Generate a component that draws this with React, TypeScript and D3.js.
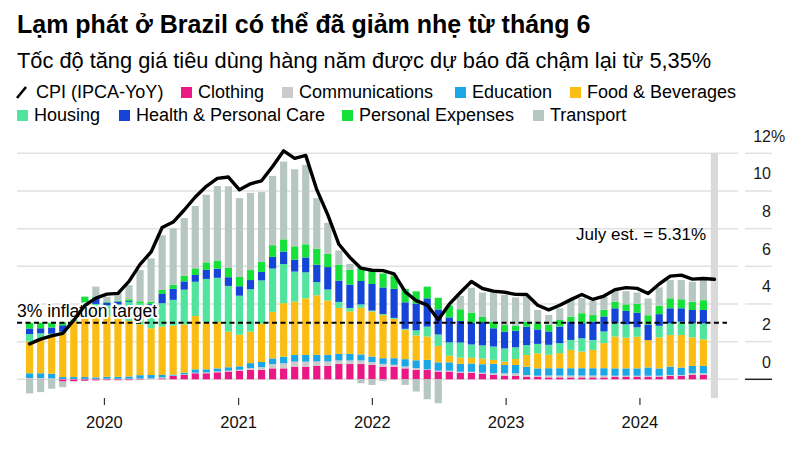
import React, { useEffect, useRef } from "react";
import * as d3 from "d3";

// IPCA 12-month rate, one point per month (last one is the estimate)
const cpi = [
  1.88, 2.13, 2.31, 2.44, 3.14, 3.92, 4.31, 4.52,
  4.56, 5.2, 6.1, 6.76, 8.06, 8.35, 8.99, 9.68, 10.25, 10.67, 10.74, 10.06,
  10.38, 10.54, 11.3, 12.13, 11.73, 11.89, 10.07, 8.73, 7.17, 6.47, 5.9, 5.79,
  5.77, 5.6, 4.65, 4.18, 3.94, 3.16, 3.99, 4.61, 5.19, 4.82, 4.68, 4.62,
  4.51, 4.5, 3.93, 3.69, 3.93, 4.23, 4.5, 4.24, 4.42, 4.76, 4.87, 4.83,
  4.56, 5.06, 5.48, 5.53, 5.32, 5.35, 5.31,
];

// contributions by group, percentage points
const clothing = [
  0.02, 0.02, 0.0, -0.12, -0.1, -0.08, -0.06, -0.05, -0.05, -0.05, -0.03, 0.0,
  0.05, 0.18, 0.23, 0.32, 0.32, 0.37, 0.41, 0.46, 0.5, 0.5, 0.58, 0.58,
  0.67, 0.67, 0.71, 0.71, 0.81, 0.81, 0.81, 0.76, 0.67, 0.67, 0.58, 0.5,
  0.5, 0.41, 0.41, 0.35, 0.35, 0.3, 0.23, 0.18, 0.18, 0.14, 0.14, 0.1,
  0.1, 0.1, 0.1, 0.1, 0.1, 0.14, 0.14, 0.14, 0.14, 0.14, 0.18, 0.18, 0.23, 0.23,
];
const communications = [
  0.05, 0.05, 0.05, 0.02, 0.02, 0.02, 0.02, 0.03, 0.03, 0.03, 0.04, 0.05,
  0.05, 0.02, 0.03, 0.03, 0.05, 0.05, 0.05, 0.05, 0.1, 0.15, 0.23, 0.27,
  0.27, 0.27, 0.24, 0.24, 0.19, 0.19, 0.19, 0.15, 0.15, 0.1, 0.1, 0.1,
  0.03, 0.05, 0.05, 0.05, 0.05, 0.05, 0.09, 0.14, 0.14, 0.09, 0.05, 0.1,
  0.1, 0.1, 0.1, 0.1, 0.1, 0.05, 0.05, 0.05, 0.05, 0.05, 0.05, 0.05, 0.09, 0.09,
];
const education = [
  0.25, 0.25, 0.25, 0.1, 0.1, 0.1, 0.08, 0.1, 0.1, 0.12, 0.18, 0.18,
  0.13, 0.05, 0.09, 0.18, 0.16, 0.16, 0.18, 0.18, 0.26, 0.27, 0.3, 0.35,
  0.35, 0.35, 0.35, 0.35, 0.35, 0.35, 0.32, 0.3, 0.3, 0.35, 0.39, 0.41,
  0.5, 0.44, 0.44, 0.42, 0.44, 0.45, 0.5, 0.44, 0.44, 0.44, 0.39, 0.39,
  0.39, 0.39, 0.39, 0.39, 0.39, 0.39, 0.39, 0.39, 0.44, 0.39, 0.44, 0.39, 0.39, 0.39,
];
const food = [
  1.68, 1.8, 1.97, 2.35, 2.95, 3.92, 3.55, 3.2, 3.1, 2.95, 2.7, 2.48,
  2.57, 2.6, 2.56, 2.83, 2.51, 2.47, 1.89, 1.68, 1.67, 2.03, 2.47, 2.84,
  2.83, 3.01, 3.16, 2.88, 2.44, 2.26, 2.48, 2.39, 2.3, 2.09, 1.56, 1.32,
  1.24, 0.87, 0.35, 0.33, 0.3, 0.3, 0.21, 0.18, 0.32, 0.62, 0.8, 0.71,
  0.8, 0.97, 0.88, 0.97, 1.33, 1.69, 1.63, 1.68, 1.45, 1.65, 1.68, 1.73, 1.52, 1.41,
];
const housing = [
  0.4, 0.32, 0.15, 0.05, 0.05, 0.05, 0.35, 0.6, 0.75, 1.0, 1.1, 1.23,
  1.24, 1.37, 1.85, 1.82, 2.29, 2.34, 2.43, 2.07, 2.25, 2.3, 2.3, 2.08,
  1.6, 1.38, 0.7, 0.59, 0.32, 0.18, 0.18, 0.05, 0.05, 0.05, 0.05, 0.27,
  0.53, 0.61, 0.71, 0.8, 0.71, 0.7, 0.71, 0.7, 0.62, 0.53, 0.5, 0.53,
  0.53, 0.53, 0.71, 0.53, 0.62, 0.7, 0.71, 0.5, 0.0, 0.61, 0.62, 0.71, 0.74, 0.85,
];
const health = [
  0.3, 0.27, 0.33, 0.35, 0.0, 0.0, 0.35, 0.15, 0.15, 0.05, 0.0, 0.05,
  0.49, 0.58, 0.44, 0.36, 0.48, 0.48, 0.46, 0.5, 0.49, 0.45, 0.62, 0.66,
  0.63, 0.79, 0.92, 1.19, 1.13, 1.24, 1.24, 1.41, 1.41, 1.54, 1.41, 1.42,
  1.5, 1.33, 1.33, 1.15, 1.15, 1.24, 0.97, 0.89, 0.88, 0.97, 0.77, 0.71,
  0.88, 0.97, 0.8, 0.97, 0.8, 0.8, 0.71, 0.78, 0.83, 0.62, 0.8, 0.71, 0.71, 0.71,
];
const personalExpenses = [
  0.3, 0.3, 0.25, 0.15, 0.05, 0.3, 0.05, 0.05, 0.05, 0.1, 0.12, 0.13,
  0.21, 0.22, 0.3, 0.35, 0.4, 0.44, 0.49, 0.5, 0.53, 0.53, 0.62, 0.65,
  0.71, 0.7, 0.85, 0.7, 0.85, 0.79, 0.7, 0.72, 0.74, 0.71, 0.71, 0.65,
  0.62, 0.62, 0.62, 0.62, 0.54, 0.27, 0.35, 0.35, 0.27, 0.27, 0.32, 0.35,
  0.35, 0.27, 0.53, 0.35, 0.35, 0.35, 0.35, 0.46, 0.49, 0.45, 0.53, 0.48, 0.44, 0.52,
];
const transport = [
  -0.75, -0.68, -0.5, -0.3, -0.02, 0.0, 0.52, 0.25, 0.45, 0.75, 1.66, 2.3,
  2.91, 3.0, 3.06, 3.31, 3.59, 3.95, 4.34, 4.18, 4.1, 3.71, 3.68, 4.13,
  4.09, 4.21, 2.69, 1.65, 0.75, 0.31, -0.21, -0.3, -0.1, 0.0, -0.3, -0.65,
  -1.06, -1.27, 0.05, 0.71, 1.32, 1.3, 1.59, 1.6, 1.5, 1.33, 0.71, 0.53,
  0.62, 0.88, 0.8, 0.75, 0.7, 0.61, 0.7, 0.61, 0.89, 0.97, 0.97, 1.02, 1.06, 1.07,
];

const groups = [
  "Clothing", "Communications", "Education", "Food & Beverages",
  "Housing", "Health & Personal Care", "Personal Expenses", "Transport",
];
const groupValues = [clothing, communications, education, food, housing, health, personalExpenses, transport];
const groupColors = ["#ea1784", "#cbcbcb", "#1ba6e6", "#fbbd14", "#50e49e", "#1444d8", "#16e03a", "#b6c7c1"];

const yTicks = [0, 2, 4, 6, 8, 10, 12];
const targetRate = 3;
const estimateLabel = "July est. = 5.31%";

const months = d3.timeMonth.range(new Date(2019, 5, 1), new Date(2024, 8, 1));

const FONT = "'Liberation Sans', Arial, Helvetica, sans-serif";

const App = () => {
  const svgRef = useRef<SVGSVGElement>(null);

  useEffect(() => {
    const w = 803;
    const h = 456;
    const svg = d3.select(svgRef.current).attr("width", w).attr("height", h);
    svg.selectAll("*").remove();
    svg.append("rect").attr("width", w).attr("height", h).attr("fill", "#fff");

    const x = d3.scaleBand<Date>().domain(months).range([26, 718]).paddingInner(0.35).paddingOuter(0);
    const y = d3.scaleLinear().domain([0, 12]).range([379.3, 153.3]);
    const xt = d3.scaleTime()
      .domain([months[0], months[months.length - 1]])
      .range([x(months[0])!, x(months[months.length - 1])! + x.bandwidth()]);

    // headline and subtitle
    svg.append("text").attr("x", 17).attr("y", 33)
      .style("font", `bold 25px ${FONT}`).attr("fill", "#000")
      .text("Lạm phát ở Brazil có thể đã giảm nhẹ từ tháng 6");
    svg.append("text").attr("x", 17).attr("y", 68)
      .style("font", `21.8px ${FONT}`).attr("fill", "#000")
      .text("Tốc độ tăng giá tiêu dùng hàng năm được dự báo đã chậm lại từ 5,35%");

    // legend
    const legend = svg.append("g").style("font", `18px ${FONT}`);
    legend.append("line").attr("x1", 17).attr("y1", 98).attr("x2", 26).attr("y2", 87)
      .attr("stroke", "#000").attr("stroke-width", 2.6);
    legend.append("text").attr("x", 36).attr("y", 98).text("CPI (IPCA-YoY)");
    const legendPos = [
      [181, 92], [282, 92], [455, 92], [570, 92],
      [17, 115], [119, 115], [342, 115], [533, 115],
    ];
    groups.forEach((g, i) => {
      const [lx, ly] = legendPos[i];
      legend.append("rect").attr("x", lx).attr("y", ly - 5).attr("width", 11).attr("height", 11)
        .attr("fill", groupColors[i]);
      legend.append("text").attr("x", lx + 17).attr("y", ly + 6).text(g);
    });

    // grid
    const grid = svg.append("g");
    grid.selectAll("line.g").data(yTicks).join("line")
      .attr("x1", 17).attr("x2", 738)
      .attr("y1", d => y(d)).attr("y2", d => y(d))
      .attr("stroke", "#e1e1e1").attr("stroke-width", 1.5);
    grid.selectAll("line.r").data(yTicks).join("line")
      .attr("x1", 745).attr("x2", 772)
      .attr("y1", d => y(d)).attr("y2", d => y(d))
      .attr("stroke", d => (d === 0 ? "#222" : "#e1e1e1")).attr("stroke-width", 1.5);

    // highlight for the estimated month
    const last = months[months.length - 1];
    svg.append("rect").attr("x", x(last)!).attr("width", x.bandwidth())
      .attr("y", y(12)).attr("height", y(-1) - y(12)).attr("fill", "#d9d9d9");

    // stacked contributions
    const rows = months.slice(0, clothing.length).map((m, i) => {
      const r: any = { month: m };
      groups.forEach((g, k) => { r[g] = groupValues[k][i]; });
      return r;
    });
    const stacked = d3.stack<any>().keys(groups).offset(d3.stackOffsetDiverging)(rows);
    svg.append("g").selectAll("g").data(stacked).join("g")
      .attr("fill", (_, i) => groupColors[i])
      .selectAll("rect").data(d => d).join("rect")
      .attr("x", d => x(d.data.month)!)
      .attr("width", x.bandwidth())
      .attr("y", d => y(Math.max(d[0], d[1])))
      .attr("height", d => Math.abs(y(d[0]) - y(d[1])));

    // inflation target
    svg.append("line").attr("x1", 17).attr("x2", 727)
      .attr("y1", y(targetRate)).attr("y2", y(targetRate))
      .attr("stroke", "#000").attr("stroke-width", 2).attr("stroke-dasharray", "5,3.5");
    svg.append("text").attr("x", 17).attr("y", y(targetRate) - 6)
      .style("font", `17.5px ${FONT}`).attr("fill", "#000")
      .attr("stroke", "#fff").attr("stroke-width", 4).attr("paint-order", "stroke")
      .attr("stroke-linejoin", "round")
      .text("3% inflation target");

    // CPI line
    const line = d3.line<number>()
      .x((_, i) => x(months[i])! + x.bandwidth() / 2)
      .y(d => y(d));
    svg.append("path").datum(cpi).attr("d", line)
      .attr("fill", "none").attr("stroke", "#000").attr("stroke-width", 3.4)
      .attr("stroke-linejoin", "round").attr("stroke-linecap", "round");

    svg.append("text").attr("x", 706).attr("y", 239.5).attr("text-anchor", "end")
      .style("font", `17px ${FONT}`).attr("fill", "#000").text(estimateLabel);

    // y axis labels
    const yl = svg.append("g").style("font", `16px ${FONT}`).attr("fill", "#1a1a1a");
    yl.selectAll("text").data(yTicks).join("text")
      .attr("x", 771).attr("y", d => y(d) - 11.8).attr("text-anchor", "end")
      .text(d => d);
    yl.append("text").attr("x", 771).attr("y", y(12) - 11.8).text("%");

    // x axis
    const xa = svg.append("g");
    const years = xt.ticks(d3.timeYear);
    xa.selectAll("line").data(years).join("line")
      .attr("x1", d => xt(d)).attr("x2", d => xt(d))
      .attr("y1", 398).attr("y2", 405)
      .attr("stroke", "#333").attr("stroke-width", 1.2);
    xa.selectAll("text").data(years).join("text")
      .attr("x", d => xt(d)).attr("y", 428).attr("text-anchor", "middle")
      .style("font", `16.5px ${FONT}`).attr("fill", "#111")
      .text(d => d3.timeFormat("%Y")(d));
  }, []);

  return (
    <svg ref={svgRef} style={{ position: "absolute", left: 0, top: 0, display: "block" }}></svg>
  );
};

export default App;
